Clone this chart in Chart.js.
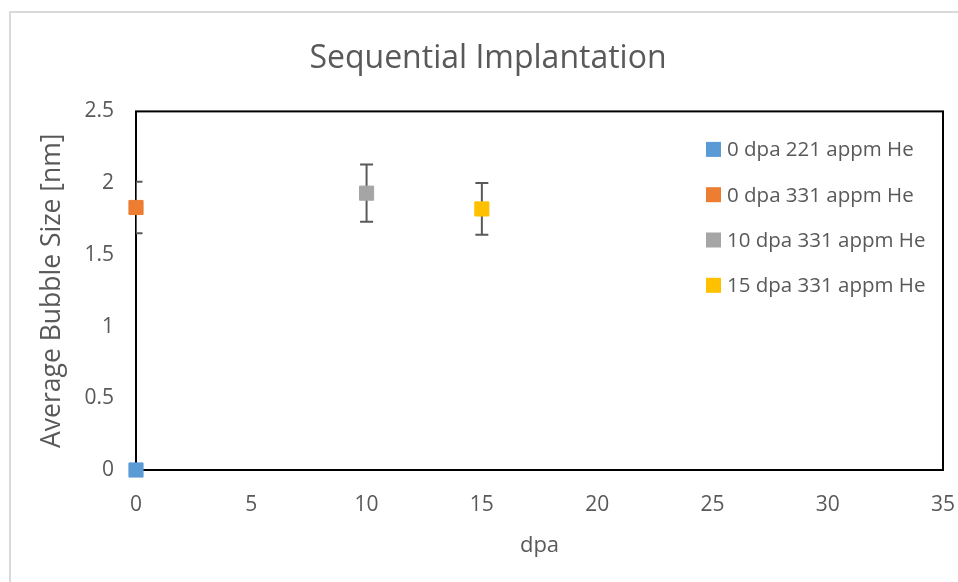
<!DOCTYPE html>
<html>
<head>
<meta charset="utf-8">
<script src="https://cdn.jsdelivr.net/npm/chart.js@4.4.1/dist/chart.umd.min.js"></script>
<style>
  html, body { margin: 0; padding: 0; background: #fff; overflow: hidden; }
  #frame { position: absolute; left: 9px; top: 11px; width: 980px; height: 600px; border: 2px solid #d9d9d9; }
  #chart { position: absolute; left: 0; top: 0; }
</style>
</head>
<body>
<div id="frame"></div>
<canvas id="chart" width="958" height="582"></canvas>
<script>
const seriesLabels = ['0 dpa 221 appm He', '0 dpa 331 appm He', '10 dpa 331 appm He', '15 dpa 331 appm He'];
const seriesColors = ['#5b9bd5', '#ed7d31', '#a5a5a5', '#ffc000'];
const dpaValues = [0, 0, 10, 15];
const bubbleSizes = [0, 1.83, 1.93, 1.82];
const errorSizes = [0, 0.18, 0.2, 0.18];
const xTicks = [0, 5, 10, 15, 20, 25, 30, 35];
const yTicks = [0, 0.5, 1, 1.5, 2, 2.5];

const textColor = '#595959';
const fontFamily = '"Open Sans", "Noto Sans", sans-serif';

const datasets = seriesLabels.map((label, i) => ({
    label: label,
    data: [{ x: dpaValues[i], y: bubbleSizes[i] }],
    errors: [errorSizes[i]],
    pointStyle: 'rect',
    pointRadius: 10,
    pointHoverRadius: 10,
    backgroundColor: seriesColors[i],
    borderColor: seriesColors[i],
    borderWidth: 1,
    clip: false
}));

// plot frame and error bars, drawn under the markers
const frameAndErrors = {
    id: 'frameAndErrors',
    beforeDatasetsDraw(chart) {
        const ctx = chart.ctx;
        const area = chart.chartArea;
        const xs = chart.scales.x;
        const ys = chart.scales.y;
        ctx.save();
        ctx.strokeStyle = '#000';
        ctx.lineWidth = 2;
        ctx.strokeRect(area.left, area.top, area.right - area.left, area.bottom - area.top);

        ctx.beginPath();
        ctx.rect(area.left, area.top - 20, area.right - area.left, area.bottom - area.top + 40);
        ctx.clip();
        ctx.strokeStyle = textColor;
        ctx.lineWidth = 2;
        chart.data.datasets.forEach(ds => {
            ds.data.forEach((p, j) => {
                const e = ds.errors[j];
                if (!e) return;
                const x = xs.getPixelForValue(p.x);
                const yHi = ys.getPixelForValue(p.y + e);
                const yLo = ys.getPixelForValue(p.y - e);
                ctx.beginPath();
                ctx.moveTo(x, yHi); ctx.lineTo(x, yLo);
                ctx.moveTo(x - 6.5, yHi); ctx.lineTo(x + 6.5, yHi);
                ctx.moveTo(x - 6.5, yLo); ctx.lineTo(x + 6.5, yLo);
                ctx.stroke();
            });
        });
        ctx.restore();
    }
};

// legend sits inside the plot area, upper right
const insideLegend = {
    id: 'insideLegend',
    afterDatasetsDraw(chart) {
        const ctx = chart.ctx;
        const area = chart.chartArea;
        const left = area.right - 237;
        const top = area.top + 38;
        ctx.save();
        ctx.font = '20.5px ' + fontFamily;
        ctx.textBaseline = 'middle';
        ctx.textAlign = 'left';
        chart.data.datasets.forEach((ds, i) => {
            const cy = top + i * 45.3;
            ctx.fillStyle = ds.backgroundColor;
            ctx.fillRect(left, cy - 7.5, 15, 15);
            ctx.fillStyle = textColor;
            ctx.fillText(ds.label, left + 21, cy + 1);
        });
        ctx.restore();
    }
};

const ctx = document.getElementById('chart').getContext('2d');
const chart = new Chart(ctx, {
    type: 'scatter',
    data: { datasets: datasets },
    options: {
        responsive: false,
        animation: false,
        events: [],
        layout: { padding: { left: 33, right: 15, top: 0, bottom: 23 } },
        plugins: {
            legend: { display: false },
            tooltip: { enabled: false },
            title: {
                display: true,
                text: 'Sequential Implantation',
                color: textColor,
                font: { family: fontFamily, size: 32, weight: 'normal' },
                padding: { top: 40, bottom: 33 }
            }
        },
        scales: {
            x: {
                type: 'linear',
                min: xTicks[0],
                max: xTicks[xTicks.length - 1],
                afterBuildTicks: s => { s.ticks = xTicks.map(v => ({ value: v })); },
                afterFit: s => { s.height = 89; s.paddingLeft = 0; s.paddingRight = 0; },
                grid: { display: false, drawTicks: false },
                border: { display: false },
                ticks: { color: textColor, padding: 22, font: { family: fontFamily, size: 21 } },
                title: {
                    display: true,
                    text: 'dpa',
                    color: textColor,
                    font: { family: fontFamily, size: 22 },
                    padding: { top: 0, bottom: 0 }
                }
            },
            y: {
                min: yTicks[0],
                max: yTicks[yTicks.length - 1],
                afterBuildTicks: s => { s.ticks = yTicks.map(v => ({ value: v })); },
                afterFit: s => { s.width = 103; },
                grid: { display: false, drawTicks: false },
                border: { display: false },
                ticks: {
                    color: textColor,
                    padding: 22,
                    font: { family: fontFamily, size: 21 },
                    callback: v => String(v)
                },
                title: {
                    display: true,
                    text: 'Average Bubble Size [nm]',
                    color: textColor,
                    font: { family: fontFamily, size: 26.5 },
                    padding: { top: 4, bottom: 4 }
                }
            }
        }
    },
    plugins: [frameAndErrors, insideLegend]
});
</script>
</body>
</html>
